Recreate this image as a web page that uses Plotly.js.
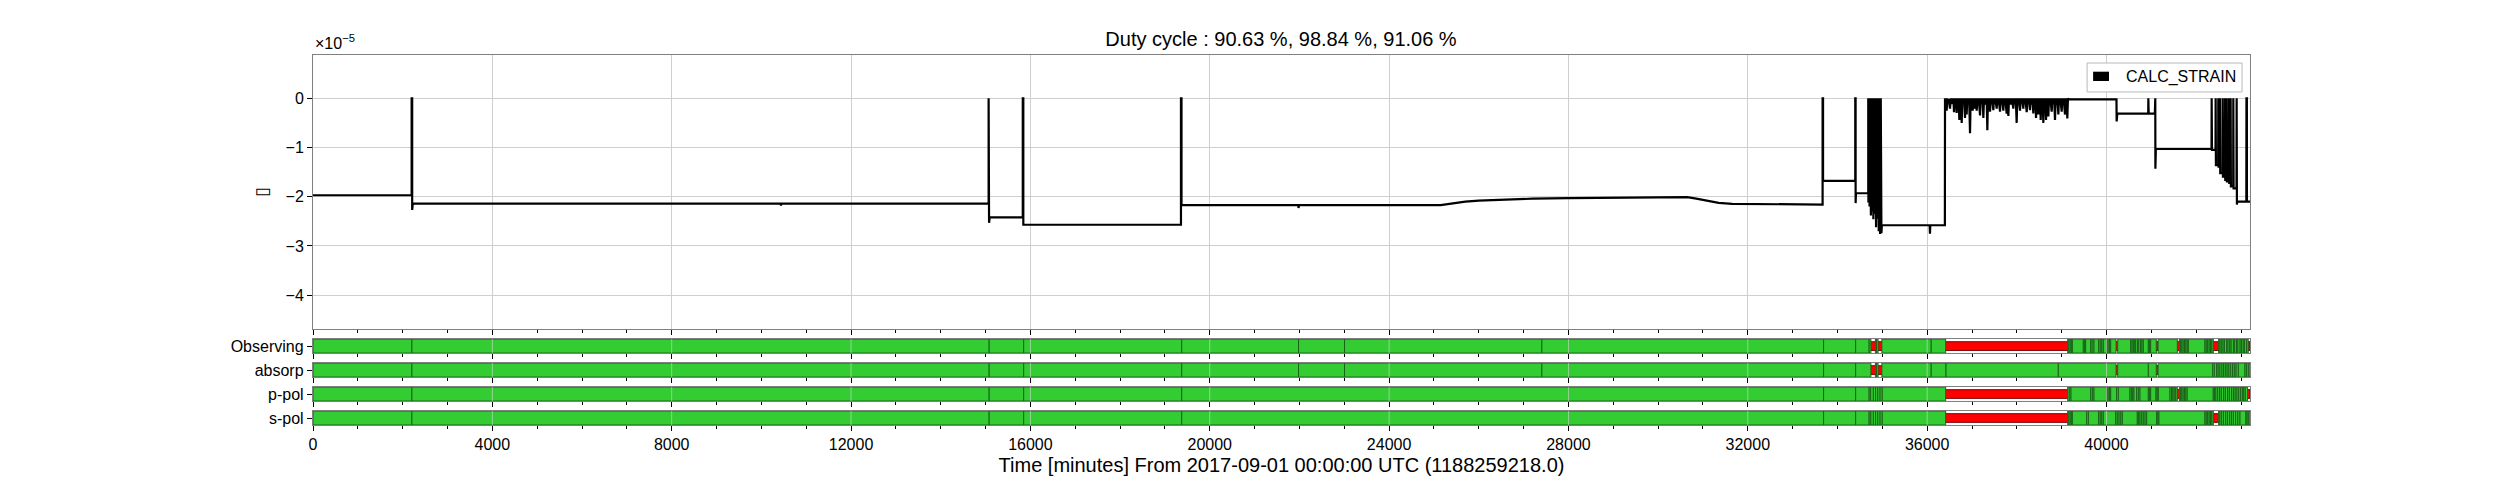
<!DOCTYPE html>
<html><head><meta charset="utf-8">
<script src="https://cdn.plot.ly/plotly-3.0.1.min.js"></script>
<style>html,body{margin:0;padding:0;background:#fff}</style>
</head><body><div id="chart" style="width:2500px;height:500px"></div>
<script>
// ---------------- data ----------------
const titleText = 'Duty cycle : 90.63 %, 98.84 %, 91.06 %';
const xTitleText = 'Time [minutes] From 2017-09-01 00:00:00 UTC (1188259218.0)';
const legendName = 'CALC_STRAIN';
const flagNames = ['Observing', 'absorp', 'p-pol', 's-pol'];
const xTickVals = [0, 4000, 8000, 12000, 16000, 20000, 24000, 28000, 32000, 36000, 40000];
const yTickVals = [0, -1, -2, -3, -4];
const yTickText = ['0', '\u22121', '\u22122', '\u22123', '\u22124'];
const knownSpan = [0, 43200];

// CALC_STRAIN (units of 1e-5) vs time in minutes
const timeMin = [
 0,2200,2200,2212,2212,2225,10430,10437,10444,15068,15068,15078,15078,15092,15830,15830,15842,15842,
 19358,19358,19370,19370,21975,21980,21987,23420,23425,23430,25150,25400,25700,26000,26500,27200,28000,
 29000,30000,30650,30850,31100,31350,31650,32500,33668,33668,33678,33678,34396,34396,34404,34404,34412,
 34686,34686,34690,34705,34715,34730,34745,34760,34772,34785,34800,34815,34830,34845,34860,34875,34890,
 34905,34920,34935,34950,34965,34980,34990,36055,36062,36070,36395,36398,
 36410,36422,36435,36450,36465,36480,36495,36510,36525,36540,36555,36570,36585,36599,36612,36625,36640,
 36658,36672,36685,36700,36718,36732,36745,36758,36770,36785,36800,36815,36830,36844,36858,36870,36881,
 36895,36910,36925,36940,36956,36970,36985,37000,37015,37030,37045,37067,37080,37092,37105,37120,37135,
 37150,37165,37179,37195,37210,37225,37240,37253,37268,37282,37297,37312,37327,37342,37356,37370,37385,
 37402,37417,37432,37447,37462,37476,37490,37505,37520,37535,37550,37565,37580,37595,37610,37625,37640,
 37655,37670,37685,37699,37714,37728,37743,37758,37773,37787,37800,37811,37825,37840,37855,37870,37885,
 37900,37922,37937,37952,37967,37982,37996,38010,38025,38040,38055,38071,38085,38100,38115,38130,38145,
 38160,38175,38190,38205,38220,38235,38250,38265,38280,38294,38309,38324,38339,38354,38368,38383,38398,
 38413,38428,38442,38455,38468,38480,38494,38508,38520,38532,38546,38560,38575,38591,38605,38620,38636,
 38651,38665,38678,38690,38703,38717,38732,38747,38762,38777,38792,38807,38822,38837,38851,38866,38881,
 38896,38911,38926,38940,38955,38970,38985,39000,39015,39030,39045,39060,39074,39088,39100,39112,39126,
 39140,39150,40222,40226,40240,40930,40933,40940,41078,41080,41088,41090,41100,42342,42345,42352,42431,
 42434,42440,42490,42493,42499,42527,42530,42536,42587,42590,42596,42639,42642,42648,42676,42679,42685,
 42728,42731,42737,42765,42768,42774,42825,42828,42834,42899,42902,42908,42916,43118,43121,43130,43132,43200
];
const strainE5 = [
 -1.97,-1.97,0,0,-2.27,-2.14,-2.14,-2.18,-2.14,-2.14,0,0,-2.53,-2.42,-2.42,0,0,-2.57,
 -2.57,0,0,-2.17,-2.17,-2.23,-2.17,-2.17,-2.19,-2.17,-2.17,-2.135,-2.10,-2.08,-2.06,-2.04,-2.03,
 -2.025,-2.02,-2.01,-2.04,-2.09,-2.125,-2.145,-2.155,-2.16,0,0,-1.68,-1.68,0,0,-2.13,-1.93,
 -1.93,0,-2.12,0,-2.20,0,-2.38,0,-2.30,0,-2.46,0,-2.35,0,-2.62,0,-2.45,
 0,-2.70,0,-2.76,0,-2.74,-2.58,-2.58,-2.75,-2.58,-2.58,0,
 -0.12,0,-0.25,0,-0.10,-0.02,-0.14,-0.21,0,-0.12,0,-0.09,0,-0.28,0,-0.13,0,
 -0.30,0,-0.11,0,-0.44,0,-0.15,0,-0.50,0,-0.12,0,-0.10,-0.40,0,-0.14,-0.33,
 0,-0.10,0,-0.13,-0.71,0,-0.12,0,-0.25,0,-0.11,-0.21,0,-0.12,-0.25,0,-0.10,
 0,-0.14,-0.35,0,-0.12,0,-0.09,-0.40,0,-0.13,0,-0.11,0,-0.65,0,-0.12,0,
 -0.27,0,-0.10,0,-0.13,-0.24,0,-0.12,0,-0.09,-0.21,0,-0.14,0,-0.11,-0.27,0,
 -0.12,0,-0.10,-0.25,0,-0.13,0,-0.11,-0.31,0,-0.12,-0.36,0,-0.10,0,-0.13,0,
 -0.11,-0.21,0,-0.12,0,-0.14,-0.50,0,-0.11,0,-0.12,-0.25,0,-0.10,0,-0.13,-0.21,
 0,-0.12,0,-0.09,-0.28,0,-0.12,0,-0.11,-0.24,0,-0.13,0,-0.10,-0.31,0,-0.12,
 0,-0.40,0,-0.14,0,-0.33,0,-0.12,0,-0.44,0,-0.11,0,-0.50,0,-0.13,0,
 -0.44,0,-0.12,0,-0.37,0,-0.10,0,-0.14,-0.27,0,-0.12,0,-0.11,-0.44,0,-0.13,
 0,-0.10,-0.33,0,-0.12,0,-0.09,-0.27,0,-0.13,0,-0.11,-0.33,0,-0.12,0,-0.41,
 0,-0.02,-0.02,-0.47,-0.31,-0.31,0,-0.31,-0.31,0,0,-1.43,-1.03,-1.03,0,-1.05,-1.05,
 0,-1.36,-1.36,0,-1.39,-1.39,0,-1.52,-1.52,0,-1.59,-1.59,0,-1.66,-1.66,0,-1.69,
 -1.69,0,-1.72,-1.72,0,-1.79,-1.79,0,-1.83,-1.83,0,-2.16,-2.10,-2.10,0,0,-2.10,-2.10
];

// active segments [start, end] in minutes for each flag
const segObserving = [
 [0,2206],[2206,15080],[15080,15850],[15850,19375],[19375,21980],[21980,23006],[23006,27407],[27407,33690],
 [33690,34405],[34405,34706],[34706,34745],[34845,34870],[34870,34905],[34990,36090],[36090,36413],
 [39134,39160],[39160,39190],[39190,39215],[39215,39238],[39238,39483],[39483,39510],[39510,39535],[39535,39647],
 [39647,39680],[39680,39721],[39721,39825],[39825,39860],[39860,39895],[39895,39929],[39929,40004],[40004,40035],
 [40035,40065],[40065,40093],[40093,40212],[40250,40539],[40539,40570],[40570,40598],[40598,40620],[40620,40650],
 [40650,40690],[40690,40720],[40720,40760],[40760,40790],[40790,40821],[40821,40933],[40933,40960],[40960,40985],
 [40985,41110],[41150,41579],[41624,41650],[41650,41680],[41680,41710],[41710,41740],[41740,41770],[41770,41800],
 [41800,41825],[41825,42196],[42196,42225],[42225,42255],[42255,42290],[42290,42320],[42320,42350],[42350,42382],
 [42501,42530],[42530,42560],[42560,42600],[42600,42630],[42630,42680],[42680,42710],[42710,42750],[42750,42780],
 [42780,42830],[42830,42860],[42860,42900],[42900,42930],[42930,42980],[42980,43010],[43010,43050],[43050,43080],
 [43080,43125],[43125,43160]
];
const segAbsorp = [
 [0,2206],[2206,15080],[15080,15850],[15850,19375],[19375,21980],[21980,23006],[23006,27407],[27407,33690],
 [33690,34405],[34405,34745],[34845,34870],[34870,34905],[34990,36090],[36090,36420],[36420,38925],[38925,40212],
 [40250,40933],[40933,41110],[41150,42367],[42367,42404],[42404,42456],[42456,42490],[42490,42530],[42530,42575],
 [42575,42610],[42610,42650],[42650,42690],[42690,42730],[42730,42770],[42770,42810],[42810,42850],[42850,42890],
 [42890,42940],[42940,43088],[43088,43120],[43120,43163],[43163,43200]
];
const segPpol = [
 [0,2206],[2206,15080],[15080,15850],[15850,19375],[19375,33690],[33690,34405],[34405,34706],[34706,34740],
 [34740,34800],[34800,34850],[34850,34900],[34900,34950],[34950,34998],[34998,36413],
 [39134,39170],[39170,39208],[39208,39647],[39647,39685],[39685,39721],[39721,40004],[40004,40035],[40035,40065],
 [40065,40093],[40093,40226],[40226,40264],[40264,40524],[40524,40555],[40555,40585],[40585,40613],[40613,40672],
 [40672,40710],[40710,40747],[40747,40933],[40933,40960],[40960,40985],[40985,41104],[41104,41130],[41130,41156],
 [41156,41416],[41416,41450],[41450,41480],[41480,41510],[41510,41545],[41545,41579],[41624,41650],[41650,41680],
 [41680,41710],[41710,41740],[41740,41770],[41770,41800],[41800,42381],[42381,42410],[42410,42440],[42440,42480],
 [42480,42520],[42520,42560],[42560,42610],[42610,42650],[42650,42700],[42700,42740],[42740,42790],[42790,42830],
 [42830,42870],[42870,42910],[42910,42950],[42950,42990],[42990,43030],[43030,43060],[43060,43095],[43095,43147]
];
const segSpol = [
 [0,2206],[2206,15080],[15080,15850],[15850,19375],[19375,33690],[33690,34405],[34405,34706],[34706,34745],
 [34745,34800],[34800,34850],[34850,34900],[34900,34950],[34950,34998],[34998,36413],
 [39134,39160],[39160,39190],[39190,39215],[39215,39238],[39238,39557],[39557,39595],[39595,39825],[39825,39860],
 [39860,39895],[39895,39929],[39929,40204],[40204,40240],[40240,40280],[40280,40320],[40320,40353],[40353,40687],
 [40687,40717],[40717,40747],[40747,40784],[40784,40820],[40820,40860],[40860,40896],[40896,41118],[41118,41145],
 [41145,41170],[41170,42196],[42196,42225],[42225,42255],[42255,42290],[42290,42320],[42320,42350],[42350,42382],
 [42501,42530],[42530,42570],[42570,42610],[42610,42660],[42660,42700],[42700,42750],[42750,42790],[42790,42830],
 [42830,42880],[42880,42930],[42930,42977],[42977,43110],[43110,43135],[43135,43163],[43163,43200]
];
const flagSegments = [segObserving, segAbsorp, segPpol, segSpol];

// ---------------- styling / layout ----------------
const FONT = 'Liberation Sans, Arial, sans-serif';
const GREEN = '#33cc33', GREEN_EDGE = '#1b641b';
const RED = '#ff0000', RED_EDGE = '#7a0000';
const FRAME = '#808080';
const rowDomains = [[0.1944, 0.2322], [0.1296, 0.1674], [0.0648, 0.1026], [0.0, 0.0378]];

const traces = [{
  type: 'scatter', mode: 'lines', x: timeMin, y: strainE5, xaxis: 'x', yaxis: 'y',
  line: {color: '#000', width: 2.2}, name: legendName, showlegend: false, hoverinfo: 'skip'
}];

const layout = {
  width: 2500, height: 500,
  margin: {l: 312.8, r: 250, t: 55, b: 74.7},
  paper_bgcolor: '#fff', plot_bgcolor: '#fff',
  font: {family: FONT, size: 16, color: '#000'},
  showlegend: false, barmode: 'overlay',
  title: {text: titleText, x: 0.5124, xanchor: 'center', y: 0.922, yanchor: 'middle',
          font: {family: FONT, size: 20, color: '#000'}},
  shapes: [], annotations: []
};

function xAxisDef(anchor, labels) {
  return {
    domain: [0, 1], anchor: anchor, range: knownSpan.slice(),
    tickmode: 'array', tickvals: xTickVals, ticks: 'outside', ticklen: 5, tickwidth: 1, tickcolor: '#000',
    showticklabels: labels, tickformat: 'd', tickfont: {family: FONT, size: 16, color: '#000'},
    showline: true, mirror: true, linecolor: FRAME, linewidth: 1, zeroline: false,
    showgrid: anchor === 'y', gridcolor: '#cfcfcf', gridwidth: 1,
    minor: {tickmode: 'linear', tick0: 0, dtick: 1000, ticks: 'outside', ticklen: 3, tickwidth: 1, tickcolor: '#000', showgrid: false}
  };
}
layout.xaxis = xAxisDef('y', false);
layout.yaxis = {
  domain: [0.2593, 1], anchor: 'x', range: [-4.69, 0.88],
  tickmode: 'array', tickvals: yTickVals, ticktext: yTickText,
  ticks: 'outside', ticklen: 5, tickwidth: 1, tickcolor: '#000',
  showline: true, mirror: true, linecolor: FRAME, linewidth: 1, zeroline: false,
  showgrid: true, gridcolor: '#cfcfcf', gridwidth: 1,
  title: {text: '\u25AF', font: {family: 'DejaVu Sans', size: 18, color: '#000'}, standoff: 12}
};

flagNames.forEach((name, i) => {
  const k = i + 2;
  const xa = xAxisDef('y' + k, i === flagNames.length - 1);
  xa.matches = 'x';
  if (i === flagNames.length - 1) {
    xa.title = {text: xTitleText, font: {family: FONT, size: 20, color: '#000'}, standoff: 5};
  }
  layout['xaxis' + k] = xa;
  layout['yaxis' + k] = {
    domain: rowDomains[i], anchor: 'x' + k, range: [-0.5, 0.5],
    tickmode: 'array', tickvals: [0], ticktext: [name],
    ticks: 'outside', ticklen: 5, tickwidth: 1, tickcolor: '#000',
    showline: true, mirror: true, linecolor: FRAME, linewidth: 1.2,
    zeroline: false, showgrid: false, fixedrange: true
  };
  // known segment (red, narrower)
  traces.push({
    type: 'bar', orientation: 'h', xaxis: 'x' + k, yaxis: 'y' + k,
    base: [knownSpan[0]], x: [knownSpan[1] - knownSpan[0]], y: [0], width: [0.62],
    marker: {color: RED, line: {color: RED_EDGE, width: 1}}, hoverinfo: 'skip', showlegend: false
  });
  // active segments (green, full height)
  const segs = flagSegments[i];
  traces.push({
    type: 'bar', orientation: 'h', xaxis: 'x' + k, yaxis: 'y' + k,
    base: segs.map(s => s[0]), x: segs.map(s => s[1] - s[0]), y: segs.map(() => 0),
    width: segs.map(() => 1.0),
    marker: {color: GREEN, line: {color: GREEN_EDGE, width: 1}}, hoverinfo: 'skip', showlegend: false
  });
  // grid lines drawn over the segment rows
  xTickVals.slice(1).forEach(t => {
    layout.shapes.push({type: 'line', xref: 'x' + k, yref: 'y' + k + ' domain', x0: t, x1: t, y0: 0, y1: 1,
      line: {color: 'rgba(215,215,215,0.6)', width: 1}, layer: 'above'});
  });
});

// offset text for the y axis
layout.annotations.push({xref: 'paper', yref: 'paper', x: 0, y: 1, xanchor: 'left', yanchor: 'bottom',
  yshift: 1, showarrow: false, text: '\u00D710<sup>\u22125</sup>', font: {family: FONT, size: 16, color: '#000'}});

// legend box
layout.shapes.push({type: 'rect', xref: 'paper', yref: 'paper', x0: 0.9159, x1: 0.9959, y0: 0.9001, y1: 0.9784,
  fillcolor: 'rgba(255,255,255,0.9)', line: {color: '#b8b8b8', width: 1}, layer: 'above'});
layout.shapes.push({type: 'rect', xref: 'paper', yref: 'paper', x0: 0.9190, x1: 0.9272, y0: 0.9298, y1: 0.9549,
  fillcolor: '#000', line: {width: 0}, layer: 'above'});
layout.annotations.push({xref: 'paper', yref: 'paper', x: 0.9351, y: 0.9406, xanchor: 'left', yanchor: 'middle',
  showarrow: false, text: legendName, font: {family: FONT, size: 16, color: '#000'}});

Plotly.newPlot('chart', traces, layout, {staticPlot: true, displayModeBar: false});
</script>
</body></html>
